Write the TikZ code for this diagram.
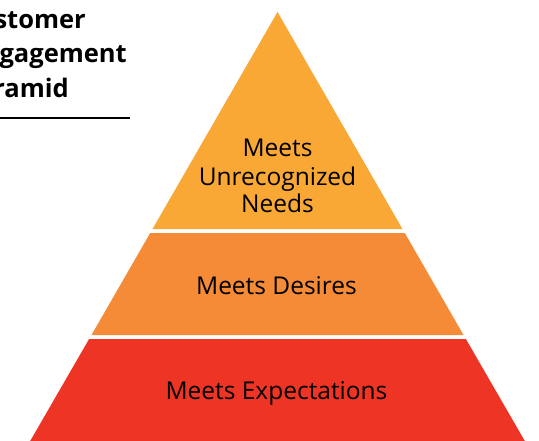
\documentclass[tikz,border=0pt]{standalone}
\usepackage{fontspec}
\setmainfont{Open Sans}
\definecolor{tierTop}{RGB}{249,168,54}
\definecolor{tierMid}{RGB}{245,139,54}
\definecolor{tierLow}{RGB}{238,52,37}
\begin{document}
\begin{tikzpicture}[x=1pt,y=-1pt,
  tier/.style={draw=none},
  tierlabel/.style={font=\fontsize{24.5}{28}\selectfont, text=black, align=center, inner sep=0pt},
  titletext/.style={font=\bfseries\fontsize{25.5}{34}\selectfont, anchor=base east, inner sep=0pt}]
\useasboundingbox (0,0) rectangle (539,440);
\clip (0,0) rectangle (539,440);
% pyramid tiers
\fill[tierTop] (277.5,12) -- (402.5,229) -- (152.5,229) -- cycle;
\fill[tierMid] (150.2,233) -- (404.8,233) -- (463.5,335) -- (91.5,335) -- cycle;
\fill[tierLow] (89.1,339) -- (465.9,339) -- (530,450) -- (25,450) -- cycle;
% labels
\node[tierlabel, anchor=base] (t1) at (277.5,156) {Meets};
\node[tierlabel, anchor=base] (t2) at (277.5,185) {Unrecognized};
\node[tierlabel, anchor=base] (t3) at (277.5,212) {Needs};
\node[tierlabel, anchor=base] (m) at (276.5,294) {Meets Desires};
\node[tierlabel, anchor=base] (b) at (276.5,399) {Meets Expectations};
% title
\node[titletext] (h1) at (86,28) {Customer};
\node[titletext] (h2) at (127,62) {Engagement};
\node[titletext] (h3) at (69,97) {Pyramid};
\coordinate (r1) at (-5,118);
\coordinate (r2) at (130,118);
\draw[line width=1.5pt] (r1) -- (r2);
\end{tikzpicture}
\end{document}
